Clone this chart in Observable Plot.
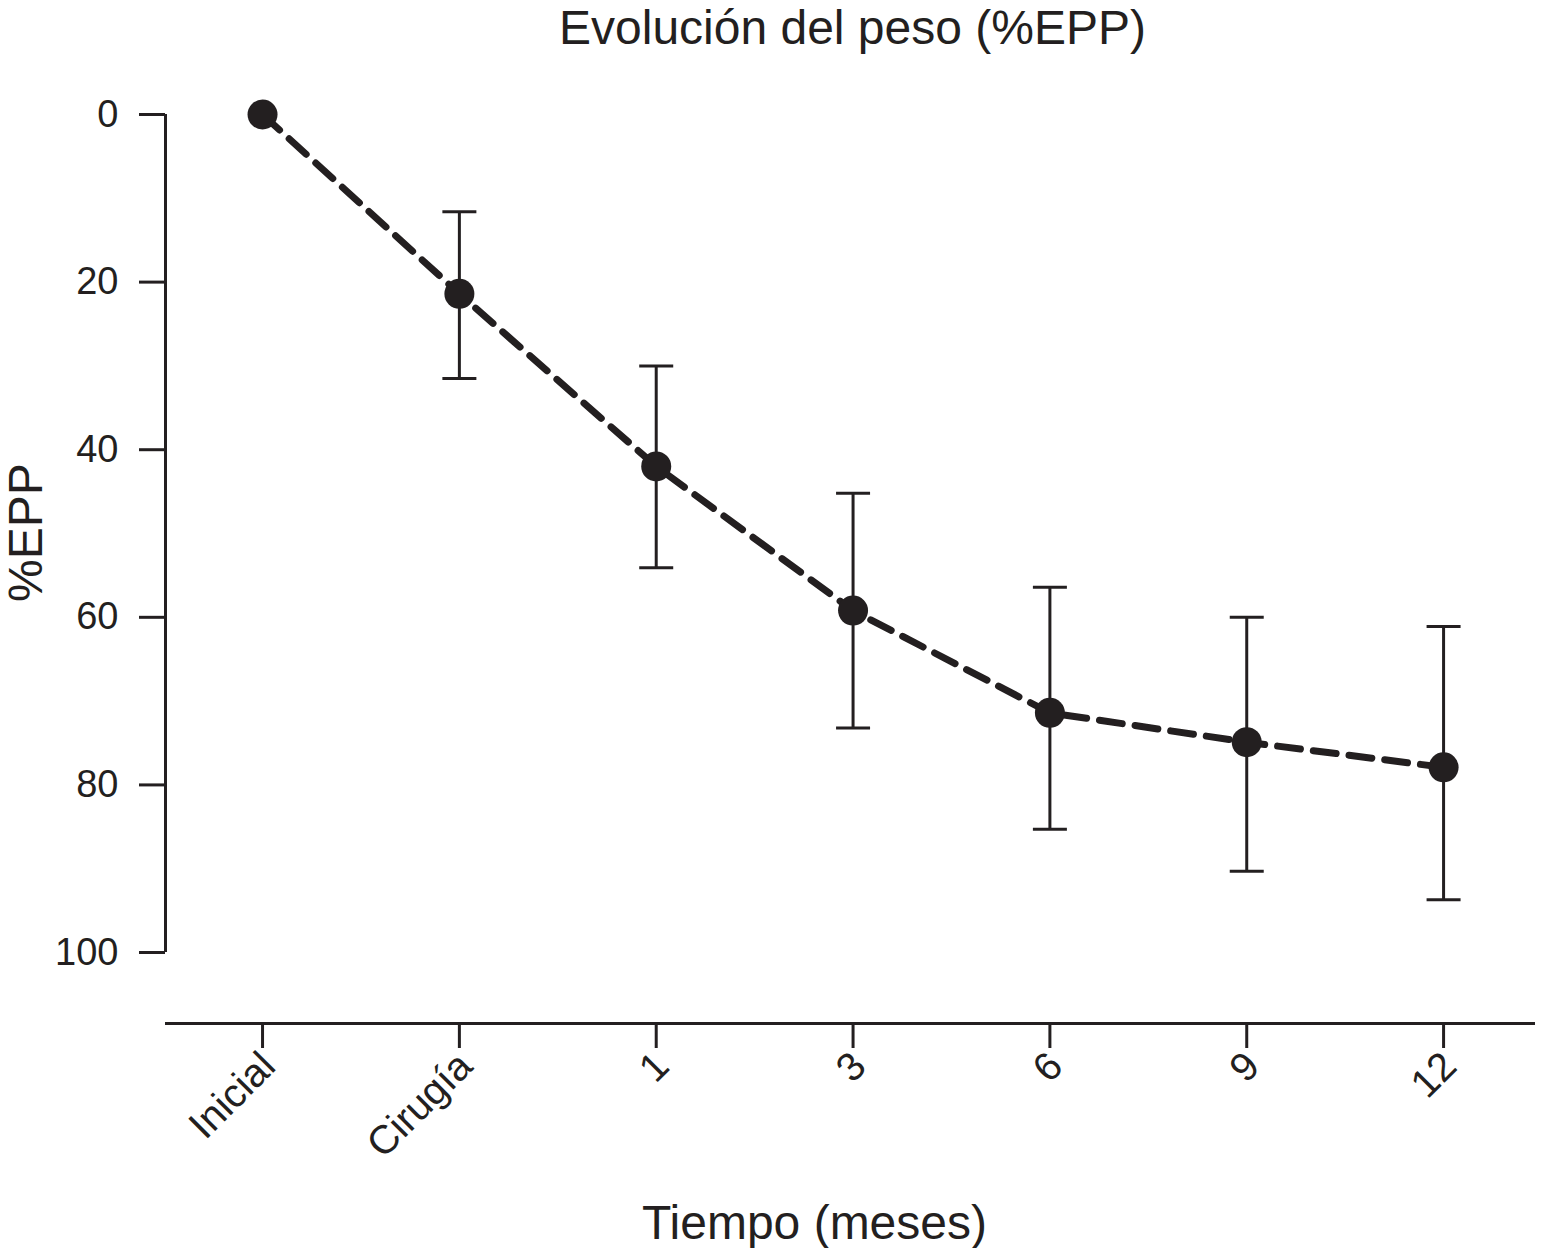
<!DOCTYPE html>
<html lang="es">
<head>
<meta charset="UTF-8">
<script src="https://cdn.jsdelivr.net/npm/d3@7"></script>
<script src="https://cdn.jsdelivr.net/npm/@observablehq/plot@0.6"></script>
<style>
  body { margin: 0; background: white; }
</style>
</head>
<body>
<div id="graphique"></div>
<script>
// datos
const etiquetas = ["Inicial", "Cirugía", "1", "3", "6", "9", "12"];
const epp = [0, 21.4, 42.0, 59.2, 71.4, 74.9, 77.9];
const inferior = [null, 11.6, 30.0, 45.2, 56.4, 60.0, 61.1];
const superior = [null, 31.5, 54.1, 73.2, 85.3, 90.3, 93.7];
const ticksY = [0, 20, 40, 60, 80, 100];

const titulo = "Evolución del peso (%EPP)";
const tituloX = "Tiempo (meses)";
const tituloY = "%EPP";

const tinta = "#231f20";
const xDom = [-0.493, 6.467];
const yDom = [0, 108.47];

const datos = etiquetas.map((e, i) => ({i, e, v: epp[i], lo: inferior[i], hi: superior[i]}));
const conError = datos.filter(d => d.lo != null);

// simbolo de la barra horizontal de los extremos
const tope = {
  draw(ctx, size) {
    const w = Math.sqrt(size / Math.PI);
    ctx.moveTo(-w, 0);
    ctx.lineTo(w, 0);
  }
};

const plot = Plot.plot({
  width: 1543,
  height: 1248,
  marginLeft: 165,
  marginRight: 8,
  marginTop: 114,
  marginBottom: 225,
  style: {fontFamily: "'Liberation Sans', Arial, sans-serif", color: tinta, background: "white"},
  x: {type: "linear", domain: xDom},
  y: {domain: yDom, reverse: true},
  marks: [
    Plot.axisY({ticks: ticksY, tickSize: 26, tickPadding: 21, fontSize: 38, strokeWidth: 3, label: null}),
    Plot.axisX({ticks: d3.range(etiquetas.length), tickFormat: i => etiquetas[i], tickRotate: -45,
      tickSize: 25, tickPadding: 11, fontSize: 40, strokeWidth: 3, label: null}),
    Plot.ruleX([xDom[0]], {y1: yDom[0], y2: 100, stroke: tinta, strokeWidth: 3}),
    Plot.ruleY([yDom[1]], {stroke: tinta, strokeWidth: 3}),
    Plot.ruleX(conError, {x: "i", y1: "lo", y2: "hi", stroke: tinta, strokeWidth: 3}),
    Plot.dot(conError, {x: "i", y: "lo", symbol: tope, r: 17, fill: "none", stroke: tinta, strokeWidth: 3}),
    Plot.dot(conError, {x: "i", y: "hi", symbol: tope, r: 17, fill: "none", stroke: tinta, strokeWidth: 3}),
    Plot.line(datos, {x: "i", y: "v", stroke: tinta, strokeWidth: 7, strokeDasharray: "23 13"}),
    Plot.dot(datos, {x: "i", y: "v", r: 15, fill: tinta}),
    Plot.text([titulo], {frameAnchor: "top", lineAnchor: "bottom", dx: 2, dy: -71, fontSize: 48, fill: tinta}),
    Plot.text([tituloX], {frameAnchor: "bottom", lineAnchor: "bottom", dx: -36, dy: 215, fontSize: 48, fill: tinta}),
    Plot.text([tituloY], {frameAnchor: "left", lineAnchor: "bottom", rotate: -90, dx: -124, dy: 33, fontSize: 48, fill: tinta})
  ]
});

document.querySelector("#graphique").append(plot);
// pequeño desplazamiento de las etiquetas giradas del eje x
plot.querySelectorAll("g[aria-label='x-axis tick label']").forEach(g => {
  g.setAttribute("transform", (g.getAttribute("transform") || "") + " translate(6,0)");
});
</script>
</body>
</html>
